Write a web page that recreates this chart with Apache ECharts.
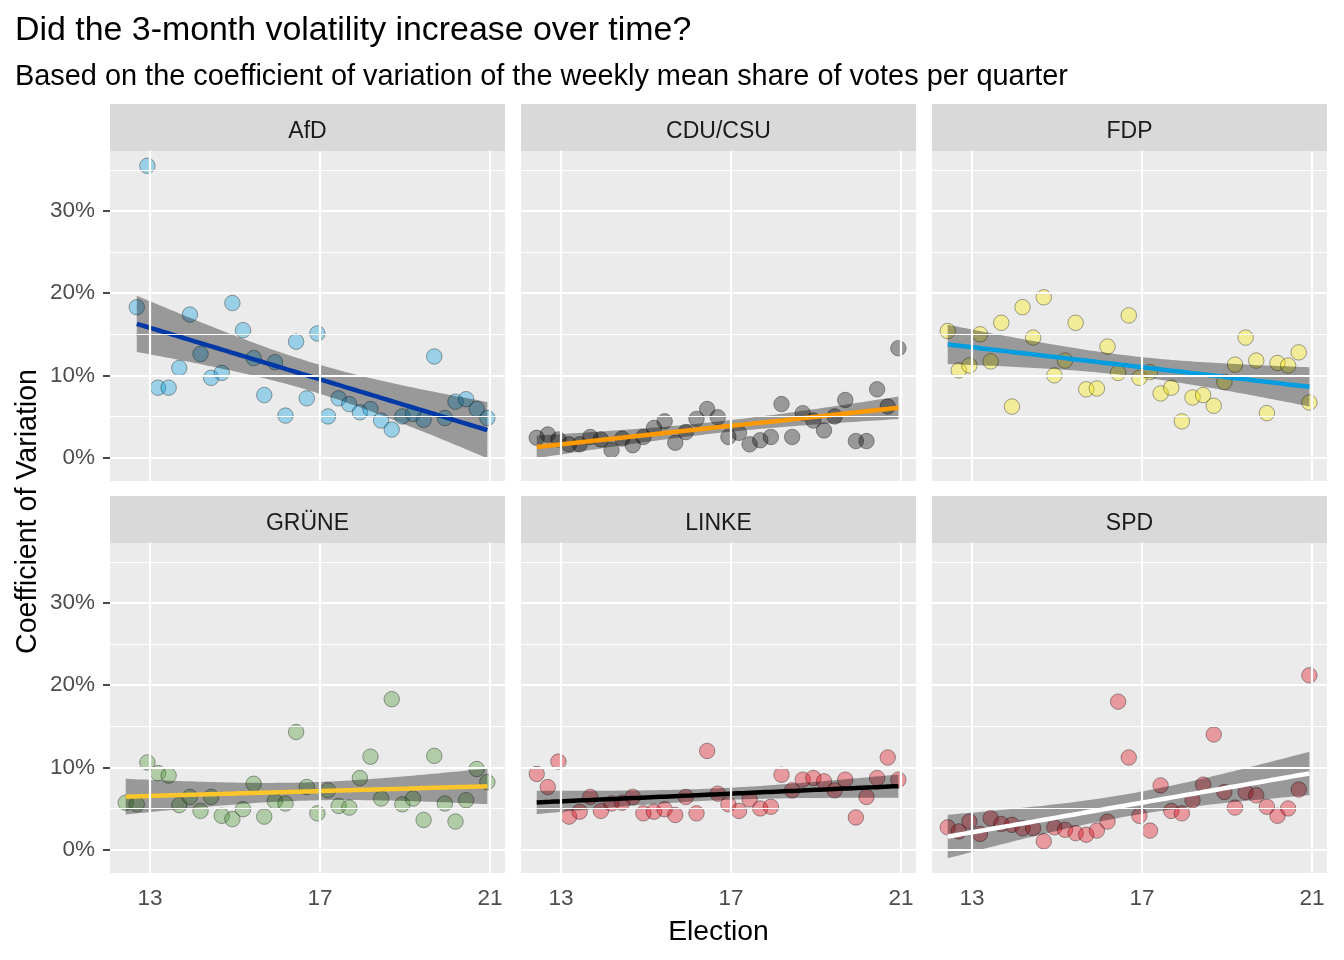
<!DOCTYPE html>
<html><head><meta charset="utf-8">
<script src="https://cdn.jsdelivr.net/npm/echarts@6/dist/echarts.min.js"></script>
<style>html,body{margin:0;padding:0;background:#fff}#c{width:1344px;height:960px}</style>
</head><body><div id="c"></div>
<script>
// ---- data ----
const quarterX = [12.43, 12.69, 12.94, 13.19, 13.44, 13.69, 13.94, 14.19, 14.44, 14.69,
  14.94, 15.19, 15.44, 15.69, 15.94, 16.19, 16.44, 16.69, 16.94, 17.19,
  17.44, 17.69, 17.94, 18.19, 18.44, 18.69, 18.94, 19.19, 19.44, 19.69,
  19.94, 20.19, 20.44, 20.69, 20.94];
const parties = ['AfD', 'CDU/CSU', 'FDP', 'GRÜNE', 'LINKE', 'SPD'];
const afdCV   = [null, 18.3, 35.5, 8.5, 8.5, 10.9, 17.4, 12.6, 9.7, 10.3, 18.8, 15.5, 12.1, 7.6, 11.6, 5.1, 14.1, 7.2, 15.1, 5.0, 7.2, 6.5, 5.5, 5.9, 4.5, 3.4, 5.0, 5.3, 4.6, 12.3, 4.8, 6.8, 7.1, 5.9, 4.8];
const cduCV   = [2.4, 2.8, 2.2, 1.6, 1.6, 2.5, 2.2, 0.9, 2.3, 1.5, 2.5, 3.6, 4.4, 1.8, 3.1, 4.7, 5.9, 4.9, 2.5, 3.0, 1.6, 2.1, 2.5, 6.5, 2.5, 5.4, 4.5, 3.3, 5.0, 7.0, 2.0, 2.0, 8.3, 6.2, 13.3];
const fdpCV   = [15.4, 10.6, 11.2, 15.0, 11.7, 16.4, 6.2, 18.3, 14.6, 19.5, 10.0, 11.8, 16.4, 8.3, 8.4, 13.5, 10.3, 17.3, 9.7, 10.4, 7.8, 8.5, 4.4, 7.3, 7.6, 6.3, 9.2, 11.3, 14.6, 11.8, 5.4, 11.5, 11.2, 12.8, 6.7];
const gruneCV = [5.7, 5.5, 10.6, 9.3, 9.0, 5.4, 6.4, 4.7, 6.4, 4.1, 3.7, 4.9, 8.0, 4.0, 5.9, 5.6, 14.3, 7.6, 4.4, 7.2, 5.3, 5.1, 8.7, 11.3, 6.2, 18.3, 5.5, 6.2, 3.6, 11.4, 5.6, 3.4, 6.0, 9.8, 8.2];
const linkeCV = [9.2, 7.6, 10.7, 4.0, 4.6, 6.4, 4.7, 5.6, 5.7, 6.4, 4.4, 4.6, 4.9, 4.2, 6.4, 4.4, 12.0, 6.8, 5.5, 4.7, 6.1, 5.0, 5.2, 9.1, 7.2, 8.5, 8.7, 8.3, 7.2, 8.5, 3.9, 6.4, 8.7, 11.2, 8.5];
const spdCV   = [2.7, 2.2, 3.4, 1.9, 3.8, 3.1, 3.0, 2.6, 2.6, 1.0, 2.7, 2.4, 2.0, 1.8, 2.3, 3.4, 18.0, 11.2, 4.1, 2.3, 7.8, 4.7, 4.4, 6.0, 7.9, 14.0, 7.0, 5.1, 7.0, 6.6, 5.2, 4.1, 5.0, 7.3, 21.2];
const xTicks = [13, 17, 21];
const yTicks = [0, 10, 20, 30];
const yMinor = [5, 15, 25, 35];
const titleText = 'Did the 3-month volatility increase over time?';
const subtitleText = 'Based on the coefficient of variation of the weekly mean share of votes per quarter';

// ---- styles ----
const seriesValues = [afdCV, cduCV, fdpCV, gruneCV, linkeCV, spdCV];
const pointFill = ['rgba(0,158,224,0.35)', 'rgba(0,0,0,0.35)', 'rgba(255,237,0,0.35)',
  'rgba(70,150,43,0.35)', 'rgba(227,0,15,0.35)', 'rgba(227,0,15,0.35)'];
const lineColor = ['#0039A6', '#FF9900', '#009EE0', '#FCC62A', '#000000', '#FFFFFF'];
const FONT = '"Liberation Sans", Arial, sans-serif';
const colLeft = [110, 521, 932], rowTop = [151, 543];
const PW = 395, PH = 330, STRIP = 47;

// ---- linear model with 95% confidence band (as geom_smooth(method = "lm")) ----
function lmFit(xs, ys) {
  const px = [], py = [];
  xs.forEach((x, i) => { if (ys[i] != null) { px.push(x); py.push(ys[i]); } });
  const n = px.length;
  const mx = px.reduce((a, b) => a + b, 0) / n, my = py.reduce((a, b) => a + b, 0) / n;
  let sxx = 0, sxy = 0;
  for (let i = 0; i < n; i++) { sxx += (px[i] - mx) ** 2; sxy += (px[i] - mx) * (py[i] - my); }
  const b = sxy / sxx, a = my - b * mx;
  let rss = 0;
  for (let i = 0; i < n; i++) rss += (py[i] - a - b * px[i]) ** 2;
  const s = Math.sqrt(rss / (n - 2));
  const t = n - 2 <= 32 ? 2.0369 : 2.0345;
  const x0 = Math.min(...px), x1 = Math.max(...px);
  const line = [], upper = [], lower = [];
  for (let k = 0; k < 80; k++) {
    const x = x0 + (x1 - x0) * k / 79;
    const yhat = a + b * x;
    const se = s * Math.sqrt(1 / n + (x - mx) ** 2 / sxx);
    line.push([x, yhat]); upper.push([x, yhat + t * se]); lower.push([x, yhat - t * se]);
  }
  return { line, upper, lower };
}

const grids = [], xAxes = [], yAxes = [], series = [], graphics = [];
parties.forEach((party, i) => {
  const col = i % 3, row = Math.floor(i / 3);
  const left = colLeft[col], top = rowTop[row];
  grids.push({ left, top, width: PW, height: PH, show: true, backgroundColor: '#EBEBEB', borderWidth: 0 });
  xAxes.push({
    type: 'value', gridIndex: i, min: 12.06, max: 21.355,
    axisLine: { show: false }, splitLine: { show: false },
    axisTick: { show: row === 1, customValues: xTicks, length: 7, lineStyle: { color: '#333333', width: 1.8 } },
    axisLabel: { show: row === 1, customValues: xTicks, color: '#4D4D4D', fontSize: 22.5, fontFamily: FONT, margin: 14 }
  });
  yAxes.push({
    type: 'value', gridIndex: i, min: -2.86, max: 37.31,
    axisLine: { show: false }, splitLine: { show: false },
    axisTick: { show: col === 0, customValues: yTicks, length: 7, lineStyle: { color: '#333333', width: 1.8 } },
    axisLabel: { show: col === 0, customValues: yTicks, formatter: '{value}%', color: '#4D4D4D', fontSize: 22.5, fontFamily: FONT, margin: 15, padding: [4, 0, 0, 0] }
  });
  const gridData = [];
  yTicks.forEach(v => gridData.push({ yAxis: v, lineStyle: { color: '#FFFFFF', width: 2.2, type: 'solid' } }));
  yMinor.forEach(v => gridData.push({ yAxis: v, lineStyle: { color: '#FFFFFF', width: 1.1, type: 'solid' } }));
  xTicks.forEach(v => gridData.push({ xAxis: v, lineStyle: { color: '#FFFFFF', width: 2.2, type: 'solid' } }));
  series.push({
    type: 'line', xAxisIndex: i, yAxisIndex: i, data: [], z: 1, silent: true,
    markLine: { silent: true, symbol: ['none', 'none'], animation: false, label: { show: false },
      emphasis: { disabled: true }, data: gridData }
  });
  const vals = seriesValues[i];
  const pts = [];
  quarterX.forEach((x, k) => { if (vals[k] != null) pts.push([x, vals[k]]); });
  series.push({
    type: 'scatter', xAxisIndex: i, yAxisIndex: i, data: pts, z: 2, symbolSize: 15.5,
    itemStyle: { color: pointFill[i], borderColor: 'rgba(0,0,0,0.35)', borderWidth: 1, opacity: 1 },
    emphasis: { disabled: true }, animation: false
  });
  const fit = lmFit(quarterX, vals);
  series.push({
    type: 'custom', xAxisIndex: i, yAxisIndex: i, data: [fit.line[0]], z: 3, silent: true, animation: false,
    renderItem: (params, api) => {
      const poly = fit.upper.map(p => api.coord(p)).concat(fit.lower.slice().reverse().map(p => api.coord(p)));
      return { type: 'polygon', shape: { points: poly }, style: { fill: 'rgba(0,0,0,0.35)' } };
    }
  });
  series.push({
    type: 'line', xAxisIndex: i, yAxisIndex: i, data: fit.line, z: 4, symbol: 'none', silent: true,
    lineStyle: { color: lineColor[i], width: 4.5 }, emphasis: { disabled: true }, animation: false
  });
  graphics.push({ type: 'rect', shape: { x: left, y: top - STRIP, width: PW, height: STRIP }, style: { fill: '#D9D9D9' } });
  graphics.push({ type: 'text', x: left + PW / 2, y: top - STRIP / 2 + 4,
    style: { text: party, fill: '#1A1A1A', font: '23px ' + FONT, align: 'center', verticalAlign: 'middle' } });
});

graphics.push({ type: 'text', x: 15, y: 31, style: { text: titleText, fill: '#000000', font: '33.9px ' + FONT, align: 'left', verticalAlign: 'middle' } });
graphics.push({ type: 'text', x: 15, y: 77, style: { text: subtitleText, fill: '#000000', font: '28.9px ' + FONT, align: 'left', verticalAlign: 'middle' } });
graphics.push({ type: 'text', x: 718.5, y: 932, style: { text: 'Election', fill: '#000000', font: '28.3px ' + FONT, align: 'center', verticalAlign: 'middle' } });
graphics.push({ type: 'text', x: 28, y: 511.5, rotation: Math.PI / 2,
  style: { text: 'Coefficient of Variation', fill: '#000000', font: '28.6px ' + FONT, align: 'center', verticalAlign: 'middle' } });

const chart = echarts.init(document.getElementById('c'), null, { renderer: 'canvas' });
chart.setOption({
  animation: false, backgroundColor: '#FFFFFF',
  grid: grids, xAxis: xAxes, yAxis: yAxes, series, graphic: graphics
});
</script></body></html>
